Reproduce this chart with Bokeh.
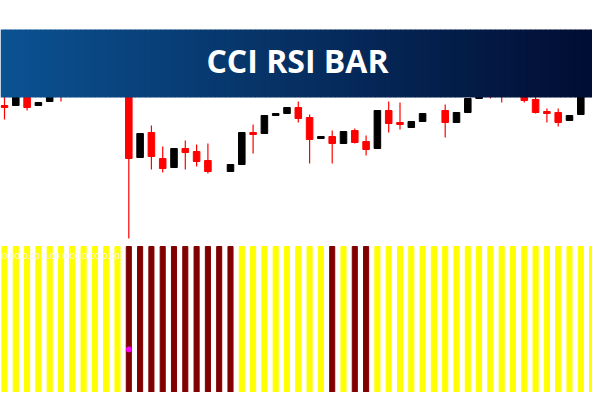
from bokeh.plotting import figure
from bokeh.models import Range1d, Label, ColumnDataSource
from bokeh.embed import file_html
from bokeh.resources import INLINE

nan = float("nan")

# ---- data ----
bar_index = list(range(53))
opens  = [1.3145, 1.3145, 1.3160, 1.3145, 1.3149, 1.3170, 1.3158, 1.3172, 1.3162, 1.3180,
          1.3174, 1.3166, 1.3093, 1.3118, 1.3092, 1.3083, 1.3102, 1.3099, 1.3090, nan,
          1.3079, 1.3086, 1.3118, 1.3117, 1.3135, 1.3137, 1.3143, 1.3133, 1.3112, 1.3114,
          1.3107, 1.3120, 1.3109, 1.3102, 1.3140, 1.3128, 1.3123, 1.3129, nan, 1.3140,
          1.3128, 1.3138, 1.3152, 1.3168, 1.3165, 1.3156, 1.3165, 1.3151, 1.3139, 1.3138,
          1.3130, 1.3136, 1.3160]
highs  = [1.3162, 1.3164, 1.3162, 1.3148, 1.3162, 1.3175, 1.3172, 1.3178, 1.3180, 1.3188,
          1.3180, 1.3172, 1.3117, 1.3125, 1.3104, 1.3102, 1.3110, 1.3106, 1.3107, nan,
          1.3086, 1.3118, 1.3126, 1.3135, 1.3137, 1.3143, 1.3149, 1.3136, 1.3114, 1.3120,
          1.3119, 1.3122, 1.3115, 1.3140, 1.3149, 1.3148, 1.3129, 1.3137, nan, 1.3146,
          1.3138, 1.3152, 1.3165, 1.3172, 1.3170, 1.3166, 1.3170, 1.3154, 1.3142, 1.3142,
          1.3135, 1.3160, 1.3170]
lows   = [1.3131, 1.3145, 1.3140, 1.3145, 1.3149, 1.3149, 1.3158, 1.3158, 1.3162, 1.3160,
          1.3160, 1.3012, 1.3093, 1.3081, 1.3078, 1.3083, 1.3081, 1.3084, 1.3077, nan,
          1.3079, 1.3086, 1.3097, 1.3117, 1.3135, 1.3137, 1.3128, 1.3087, 1.3112, 1.3087,
          1.3107, 1.3107, 1.3095, 1.3102, 1.3118, 1.3121, 1.3123, 1.3129, nan, 1.3113,
          1.3128, 1.3138, 1.3152, 1.3152, 1.3148, 1.3156, 1.3148, 1.3137, 1.3128, 1.3124,
          1.3130, 1.3136, 1.3160]
closes = [1.3143, 1.3160, 1.3143, 1.3148, 1.3162, 1.3158, 1.3172, 1.3162, 1.3180, 1.3168,
          1.3164, 1.3092, 1.3117, 1.3094, 1.3082, 1.3102, 1.3098, 1.3089, 1.3079, nan,
          1.3086, 1.3118, 1.3116, 1.3135, 1.3137, 1.3143, 1.3132, 1.3111, 1.3114, 1.3107,
          1.3119, 1.3108, 1.3101, 1.3140, 1.3127, 1.3126, 1.3129, 1.3137, nan, 1.3128,
          1.3138, 1.3152, 1.3165, 1.3158, 1.3156, 1.3166, 1.3150, 1.3138, 1.3137, 1.3128,
          1.3135, 1.3160, 1.3170]

# CCI/RSI bar state: 1 = bullish (yellow), -1 = bearish (dark red)
signal = [1, 1, 1, 1, 1, 1, 1, 1, 1, 1,
          1, -1, -1, -1, -1, -1, -1, -1, -1, -1,
          -1, 1, 1, 1, 1, 1, 1, 1, 1, -1,
          1, -1, -1, 1, 1, 1, 1, 1, 1, 1,
          1, 1, 1, 1, 1, 1, 1, 1, 1, 1,
          1, 1, 1]
bar_level = [1.0] * 53
marker_index = [11]
marker_value = [0.30]
title = "CCI RSI BAR"
value_text = "0.00 0.00 0.00 0.00 0.00 0.00"

# ---- styles ----
UP, DOWN = "#000000", "#ff0000"
BAR_UP, BAR_DOWN = "#ffff00", "#800000"

W, H = 592, 392
px_per_bar = 11.3
x0 = -4 / px_per_bar
p = figure(width=W, height=H, output_backend="svg", toolbar_location=None,
           x_range=Range1d(x0, x0 + W / px_per_bar),
           y_range=Range1d(1.3250 - H / 10000, 1.3250), min_border=0,
           background_fill_color="white", border_fill_color="white",
           outline_line_color=None)
p.axis.visible = False
p.grid.visible = False
p.extra_y_ranges = {"ind": Range1d((393 - H) / 147, 393 / 147), "py": Range1d(H, 0)}
p.extra_x_ranges = {"px": Range1d(0, W)}

# indicator bars
bar_colors = [BAR_UP if s > 0 else BAR_DOWN for s in signal]
p.vbar(x=bar_index, width=0.45, bottom=0, top=bar_level, color=bar_colors,
       y_range_name="ind")
p.scatter(x=marker_index, y=marker_value, size=5, color="#ff00ff", y_range_name="ind")

# candles
ccol = [UP if (c >= o) else DOWN for o, c in zip(opens, closes)]
src = ColumnDataSource(dict(x=bar_index, o=opens, h=highs, l=lows, c=closes, col=ccol,
                            top=[max(o, c) for o, c in zip(opens, closes)],
                            bot=[min(o, c) for o, c in zip(opens, closes)]))
p.segment(x0="x", y0="h", x1="x", y1="l", color="col", line_width=1.2, source=src)
p.vbar(x="x", width=0.58, top="top", bottom="bot", fill_color="col", line_color="col",
       line_width=1, source=src)

# white value text over indicator window
p.add_layout(Label(x=2, y=255, x_range_name="px", y_range_name="py", text=value_text,
                   text_color="#f4f4f4", text_font_size="9px", text_baseline="middle",
                   text_font="Liberation Sans"))

# banner with gradient
c_left = (11, 82, 146)
c_right = (1, 12, 50)
n = 120
xs_l, xs_r, cols = [], [], []
for k in range(n):
    t = k / (n - 1)
    rgb = tuple(int(round(a + (b - a) * t)) for a, b in zip(c_left, c_right))
    xs_l.append(k * 5)
    xs_r.append(k * 5 + 5.5)
    cols.append("#%02x%02x%02x" % rgb)
p.quad(left=xs_l, right=xs_r, top=29, bottom=97, color=cols, line_width=0,
       x_range_name="px", y_range_name="py")
p.add_layout(Label(x=297, y=60, x_range_name="px", y_range_name="py", text=title,
                   text_color="white", text_font="Open Sans", text_font_style="bold",
                   text_font_size="32px", text_align="center", text_baseline="middle"))

open("out.html", "w").write(file_html(p, INLINE))
